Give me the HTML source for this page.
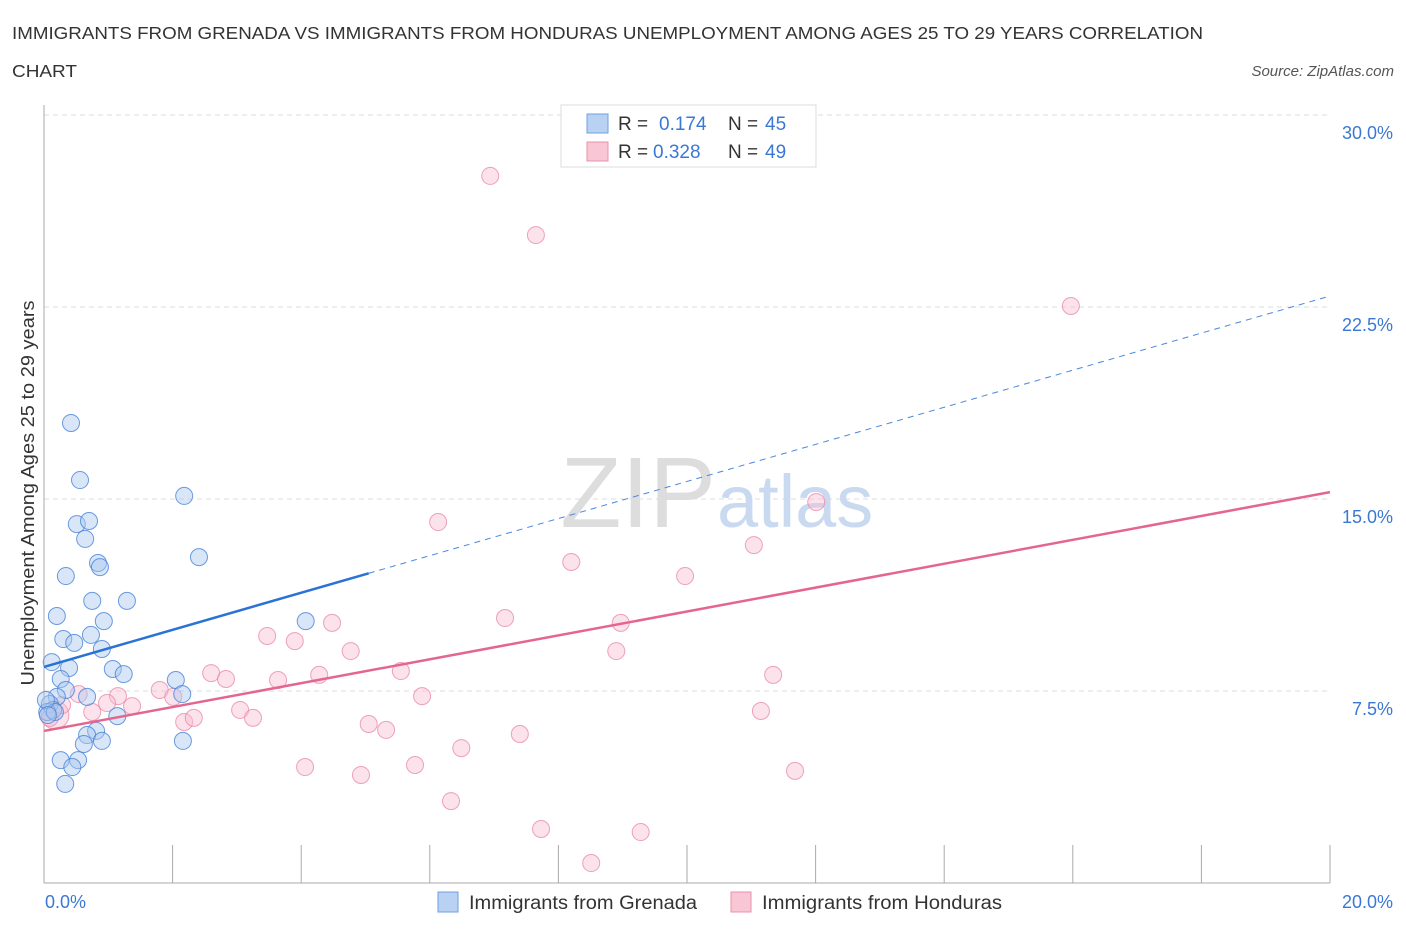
<!DOCTYPE html>
<html><head><meta charset="utf-8"><style>
body{margin:0;background:#fff;font-family:"Liberation Sans",sans-serif;}
svg text{font-family:"Liberation Sans",sans-serif;}
</style></head><body>
<svg width="1406" height="930" xmlns="http://www.w3.org/2000/svg">
<text x="12" y="39" font-size="17.5" fill="#333" textLength="1191" lengthAdjust="spacingAndGlyphs">IMMIGRANTS FROM GRENADA VS IMMIGRANTS FROM HONDURAS UNEMPLOYMENT AMONG AGES 25 TO 29 YEARS CORRELATION</text>
<text x="12" y="77" font-size="17.5" fill="#333" textLength="65" lengthAdjust="spacingAndGlyphs">CHART</text>
<text x="1394" y="76" font-size="15" fill="#555" font-style="italic" text-anchor="end">Source: ZipAtlas.com</text>
<text x="34" y="493" font-size="18" fill="#333" text-anchor="middle" textLength="385" lengthAdjust="spacingAndGlyphs" transform="rotate(-90 34 493)">Unemployment Among Ages 25 to 29 years</text>
<g id="grid"></g>
<g id="axes"></g>
<text x="716" y="527" font-size="100" fill="#ddd" text-anchor="end" font-family="Liberation Serif">ZIP</text>
<text x="717" y="527" font-size="74" fill="#c9d9f0">atlas</text>
<g id="pts"></g>
<g id="trend"></g>
<g>
<rect x="561" y="105" width="255" height="62" fill="#fff" stroke="#ddd"/>
<rect x="587" y="114" width="21" height="19" fill="#b9d2f3" stroke="#6f9fe0"/>
<text x="618" y="130" font-size="19" fill="#333">R = </text><text x="659" y="130" font-size="19" fill="#3a78d4">0.174</text>
<text x="728" y="130" font-size="19" fill="#333">N = </text><text x="765" y="130" font-size="19" fill="#3a78d4">45</text>
<rect x="587" y="142" width="21" height="19" fill="#f8c6d4" stroke="#e891ab"/>
<text x="618" y="158" font-size="19" fill="#333">R = </text><text x="653" y="158" font-size="19" fill="#3a78d4">0.328</text>
<text x="728" y="158" font-size="19" fill="#333">N = </text><text x="765" y="158" font-size="19" fill="#3a78d4">49</text>
</g>
<g>
<rect x="438" y="892" width="20" height="20" fill="#b9d2f3" stroke="#6f9fe0"/>
<text x="469" y="909" font-size="19" fill="#333" textLength="228" lengthAdjust="spacingAndGlyphs">Immigrants from Grenada</text>
<rect x="731" y="892" width="20" height="20" fill="#f8c6d4" stroke="#e891ab"/>
<text x="762" y="909" font-size="19" fill="#333" textLength="240" lengthAdjust="spacingAndGlyphs">Immigrants from Honduras</text>
</g>
</svg>
<script>
const yTicks=[7.5,15,22.5,30];
const yTickLabels=["7.5%","15.0%","22.5%","30.0%"];
const blueX=[0.42,0.56,2.18,0.51,0.70,0.64,0.84,0.87,2.41,0.34,0.75,1.29,0.20,0.93,4.07,0.30,0.73,0.47,0.90,0.12,0.39,1.07,1.24,0.26,2.05,2.15,0.34,0.67,0.20,0.09,0.14,0.05,0.17,1.14,0.81,0.67,0.62,0.90,2.16,0.26,0.53,0.44,0.33,0.03,0.06];
const blueY=[17.97,15.74,15.12,14.02,14.14,13.44,12.5,12.34,12.73,11.99,11.02,11.02,10.43,10.23,10.23,9.53,9.69,9.38,9.14,8.63,8.40,8.36,8.16,7.97,7.93,7.38,7.54,7.27,7.27,6.99,6.76,6.68,6.68,6.52,5.94,5.78,5.43,5.55,5.55,4.80,4.80,4.53,3.87,7.15,6.56];
const pinkX=[6.94,7.65,15.97,12.01,6.13,11.04,8.20,9.97,7.17,8.97,4.48,3.47,3.90,4.77,8.90,5.55,2.60,2.83,4.28,11.34,3.64,1.80,1.15,0.54,2.01,5.88,1.37,0.98,3.05,2.18,2.33,3.25,5.05,5.32,7.40,6.49,11.15,4.06,5.77,4.93,11.68,6.33,7.73,9.28,8.51,0.17,0.75,0.28,0.09];
const pinkY=[27.62,25.31,22.54,14.88,14.10,13.20,12.54,11.99,10.35,10.16,10.16,9.65,9.45,9.06,9.06,8.28,8.20,7.97,8.13,8.13,7.93,7.54,7.30,7.38,7.27,7.30,6.91,7.03,6.76,6.29,6.45,6.45,6.21,5.98,5.82,5.27,6.72,4.53,4.61,4.22,4.38,3.20,2.11,1.99,0.78,6.56,6.68,6.95,6.45];
const blueTrend=[8.44,22.93];
const pinkTrend=[5.94,15.27];
const blueSolidEnd=5.05;
const NS="http://www.w3.org/2000/svg";
const X0=44,X1=1330,Y0=883,PY=25.6;
const sx=v=>X0+(v/20)*(X1-X0);
const sy=v=>Y0-v*PY;
function mk(t,a,p){const e=document.createElementNS(NS,t);for(const k in a)e.setAttribute(k,a[k]);p.appendChild(e);return e;}
const grid=document.getElementById('grid'),axes=document.getElementById('axes');
yTicks.forEach((t,i)=>{
 const l=mk('line',{x1:X0,x2:X1,y1:sy(t),y2:sy(t),stroke:'#ddd','stroke-dasharray':'5,4'},grid);
 
 
 const tx=mk('text',{x:1393,y:sy(t)+24,'font-size':18,fill:'#3a78d4','text-anchor':'end'},axes);
 tx.textContent=yTickLabels[i];
 
 
});
mk('line',{x1:X0,x2:X0,y1:105,y2:Y0,stroke:'#aaa'},axes);
mk('line',{x1:X0,x2:X1,y1:Y0,y2:Y0,stroke:'#aaa'},axes);
for(let i=1;i<=10;i++){const tk=mk('line',{x1:sx(i*2),x2:sx(i*2),y1:845,y2:Y0,stroke:'#aaa'},axes);
 
 }
const xl=mk('text',{x:45,y:908,'font-size':18,fill:'#3a78d4'},axes);xl.textContent='0.0%';


const xr=mk('text',{x:1393,y:908,'font-size':18,fill:'#3a78d4','text-anchor':'end'},axes);xr.textContent='20.0%';


const pts=document.getElementById('pts');
pinkX.forEach((x,i)=>{const c=mk('circle',{cx:sx(x),cy:sy(pinkY[i]),r:i==45?14:8.5,fill:'rgba(248,190,208,0.45)',stroke:'rgba(232,140,170,0.8)','stroke-width':1},pts);
 
 });
blueX.forEach((x,i)=>{const c=mk('circle',{cx:sx(x),cy:sy(blueY[i]),r:8.5,fill:'rgba(170,200,240,0.45)',stroke:'rgba(70,130,215,0.8)','stroke-width':1},pts);
 
 });
const tr=document.getElementById('trend');
const by=x=>blueTrend[0]+(blueTrend[1]-blueTrend[0])*x/20;
const l1=mk('line',{x1:sx(0),y1:sy(by(0)),x2:sx(blueSolidEnd),y2:sy(by(blueSolidEnd)),stroke:'#2a72d6','stroke-width':2.5},tr);


const l2=mk('line',{x1:sx(blueSolidEnd),y1:sy(by(blueSolidEnd)),x2:sx(20),y2:sy(by(20)),stroke:'#4a88dd','stroke-width':1,'stroke-dasharray':'6,5'},tr);


const l3=mk('line',{x1:sx(0),y1:sy(pinkTrend[0]),x2:sx(20),y2:sy(pinkTrend[1]),stroke:'#e4668f','stroke-width':2.5},tr);


</script>
</body></html>
